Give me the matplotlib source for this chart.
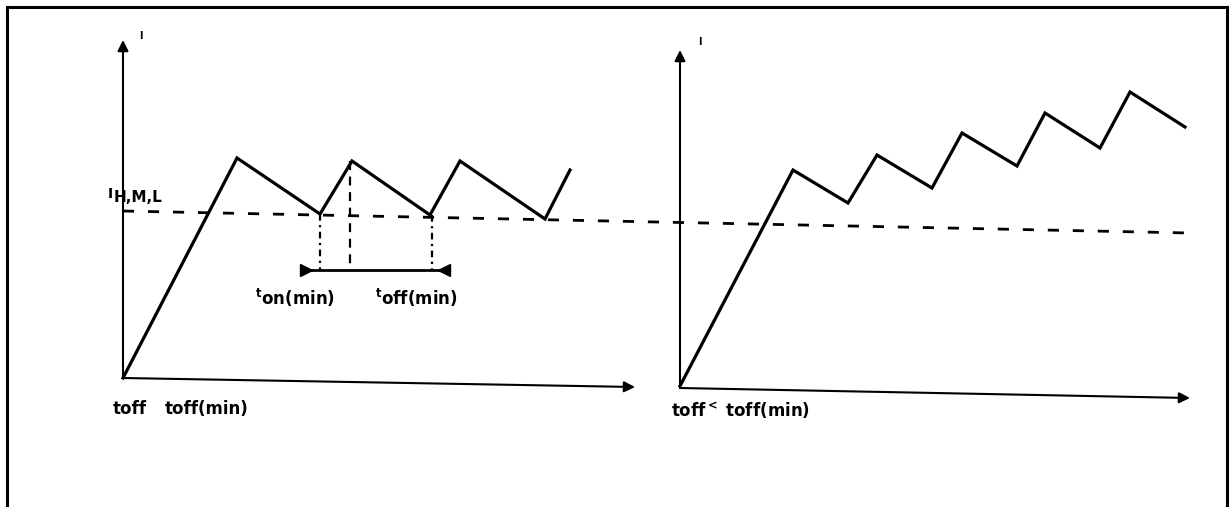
import matplotlib
matplotlib.use("Agg")
import matplotlib.pyplot as plt

plt.rcParams["mathtext.default"] = "regular"

# coordinates (pixel space, y downwards)
left_wave_x = [123, 237, 320, 352, 430, 460, 545, 570]
left_wave_y = [378, 158, 214, 161, 215, 161, 219, 170]

right_wave_x = [680, 793, 848, 877, 932, 962, 1017, 1045, 1100, 1130, 1185]
right_wave_y = [386, 170, 203, 155, 188, 133, 166, 113, 148, 92, 127]

level_x = [123, 1190]
level_y = [211, 233]

left_axis_origin = (123, 378)
left_axis_ytip = (123, 40)
left_axis_xtip = (635, 387)
right_axis_origin = (680, 388)
right_axis_ytip = (680, 50)
right_axis_xtip = (1190, 398)

# dash-dot drop lines and the t_on / t_off bar
drop_x = [320, 350, 432]
drop_top = [214, 161, 215]
bar_x = [303, 447]
bar_y = 270

fig = plt.figure(figsize=(12.3, 5.07), dpi=100)
ax = fig.add_axes([0, 0, 1, 1])
ax.set_xlim(0, 1230)
ax.set_ylim(507, 0)
ax.axis("off")

# frame (open at the bottom)
ax.plot([7, 7, 1227, 1227], [507, 7, 7, 507], color="k", lw=2.2, solid_joinstyle="miter")

# axes with arrows
for o, t in [(left_axis_origin, left_axis_ytip), (left_axis_origin, left_axis_xtip),
             (right_axis_origin, right_axis_ytip), (right_axis_origin, right_axis_xtip)]:
    ax.annotate("", xy=t, xytext=o,
                arrowprops=dict(arrowstyle="-|>", lw=1.5, color="k",
                                mutation_scale=16, shrinkA=0, shrinkB=0))

# reference level
ax.plot(level_x, level_y, color="k", lw=2, dashes=(4, 5))

# current waveforms
ax.plot(left_wave_x, left_wave_y, color="k", lw=2.3, solid_joinstyle="miter")
ax.plot(right_wave_x, right_wave_y, color="k", lw=2.3, solid_joinstyle="miter")

# drop lines to the bar
for i, (x, top) in enumerate(zip(drop_x, drop_top)):
    ax.plot([x, x], [top, bar_y], color="k", lw=1.6,
            dashes=(3, 2, 1, 2) if i != 1 else (4, 3))
ax.plot(bar_x, [bar_y, bar_y], color="k", lw=2)
ax.plot(bar_x[0] + 3, bar_y, marker=">", color="k", ms=8)
ax.plot(bar_x[1] - 3, bar_y, marker="<", color="k", ms=8)

# labels
fs = 12
kw = dict(fontsize=fs, fontweight="bold", ha="left", va="center")
ax.text(141, 36, "I", fontsize=7, fontweight="bold", ha="center", va="center")
ax.text(700, 42, "I", fontsize=7, fontweight="bold", ha="center", va="center")
ax.text(108, 194, "I", fontsize=10, fontweight="bold", ha="left", va="center")
ax.text(114, 198, "H,M,L", fontsize=11, fontweight="bold", ha="left", va="center")
ax.text(255, 298, "$^{t}$on(min)", **kw)
ax.text(375, 298, "$^{t}$off(min)", **kw)
ax.text(113, 409, "toff", **kw)
ax.text(165, 409, "toff(min)", **kw)
ax.text(671, 411, "toff$^{<}$ toff(min)", **kw)

fig.savefig("out.png", dpi=100)
